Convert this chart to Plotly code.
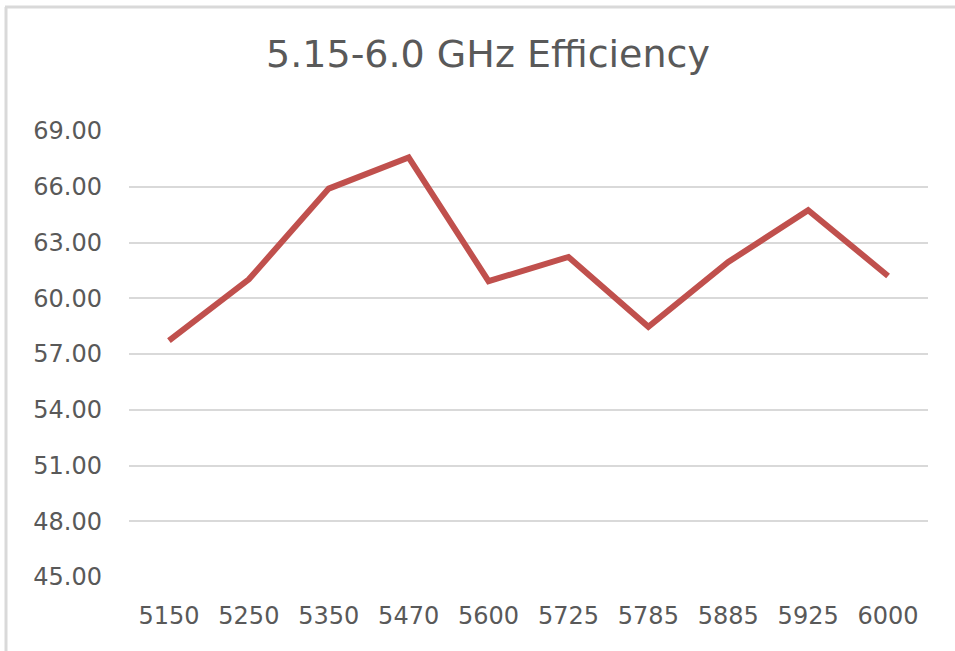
import plotly.graph_objects as go

categories = ["5150", "5250", "5350", "5470", "5600", "5725", "5785", "5885", "5925", "6000"]
efficiency = [57.72, 61.02, 65.90, 67.58, 60.92, 62.22, 58.46, 61.95, 64.74, 61.20]
y_ticks = [45, 48, 51, 54, 57, 60, 63, 66, 69]
y_tick_labels = [f"{v:.2f}" for v in y_ticks]

W, H = 955, 651
ML, MR, MT, MB = 129, 27, 131, 74
pw, ph = W - ML - MR, H - MT - MB

def px_x(x):
    return (x - ML) / pw

def px_y(y):
    return 1 - (y - MT) / ph

fig = go.Figure()
fig.add_trace(go.Scatter(
    x=categories, y=efficiency, mode="lines",
    line=dict(color="#C0504D", width=6),
    showlegend=False, hoverinfo="x+y",
))

border = "#d9d9d9"
fig.add_shape(type="line", xref="paper", yref="paper",
              x0=px_x(5), x1=px_x(960), y0=px_y(7), y1=px_y(7),
              line=dict(color=border, width=3))
fig.add_shape(type="line", xref="paper", yref="paper",
              x0=px_x(6), x1=px_x(6), y0=px_y(7), y1=px_y(660),
              line=dict(color=border, width=3))

font_family = "DejaVu Sans"
fig.update_layout(
    width=W, height=H,
    margin=dict(l=ML, r=MR, t=MT, b=MB),
    paper_bgcolor="white", plot_bgcolor="white",
    title=dict(text="5.15-6.0 GHz Efficiency", x=0.511, xanchor="center",
               xref="container", y=1 - 54 / H, yanchor="middle", yref="container",
               font=dict(family=font_family, size=38, color="#595959")),
    xaxis=dict(type="category", range=[-0.5, 9.5], showgrid=False, zeroline=False,
               showline=False, ticks="", ticklabelstandoff=22,
               tickfont=dict(family=font_family, size=24, color="#595959")),
    yaxis=dict(range=[45, 69], tickvals=y_ticks, ticktext=y_tick_labels,
               showgrid=True, gridcolor="#d9d9d9", gridwidth=2, zeroline=False,
               showline=False, ticks="", ticklabelstandoff=26,
               tickfont=dict(family=font_family, size=24, color="#595959")),
)

fig.write_html("out.html", config={"displayModeBar": False},
               post_script="document.body.style.margin='0';document.body.style.overflow='hidden';")
